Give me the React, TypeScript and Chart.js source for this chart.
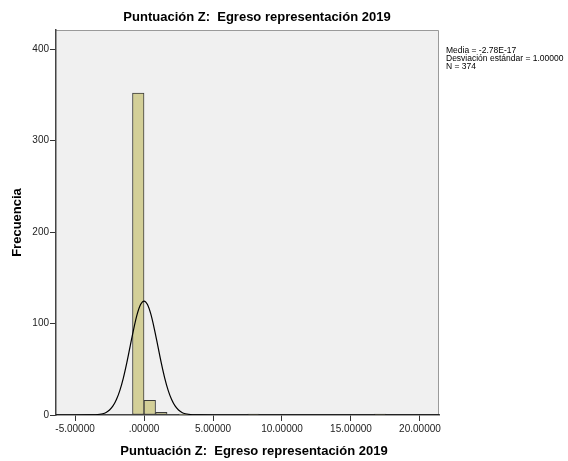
import React, { useEffect, useRef } from "react";
import { Chart, registerables } from "chart.js";

Chart.register(...registerables);

const titleText = "Puntuación Z:  Egreso representación 2019";
const xAxisTitle = "Puntuación Z:  Egreso representación 2019";
const yAxisTitle = "Frecuencia";
const statsLines = ["Media = -2.78E-17", "Desviación estándar = 1.00000", "N = 374"];

const binWidth = 0.835;
const binLowerEdges = [-0.835, 0, 0.835, 2.505, 7.515, 16.7];
const binCounts = [352, 16, 3, 1, 1, 1];

const curveX = [-6.38, -5, -4, -3.5, -3, -2.75, -2.5, -2.25, -2, -1.75, -1.5, -1.25, -1, -0.75, -0.5, -0.25, 0, 0.25, 0.5, 0.75, 1, 1.25, 1.5, 1.75, 2, 2.25, 2.5, 2.75, 3, 3.5, 4, 5, 10, 15, 21.38];
const curveY = [0, 0, 0.04, 0.27, 1.4, 2.8, 5.5, 9.9, 16.9, 27.0, 40.4, 57.0, 75.6, 94.0, 110.0, 120.8, 124.6, 120.8, 110.0, 94.0, 75.6, 57.0, 40.4, 27.0, 16.9, 9.9, 5.5, 2.8, 1.4, 0.27, 0.04, 0, 0, 0, 0];

const xTickValues = [-5, 0, 5, 10, 15, 20];
const xTickLabels = ["-5.00000", ".00000", "5.00000", "10.00000", "15.00000", "20.00000"];
const yTickValues = [0, 100, 200, 300, 400];
const yTickLabels = ["0", "100", "200", "300", "400"];

const FONT = "'Liberation Sans', Arial, sans-serif";

export default function App() {
  const ref = useRef<HTMLCanvasElement | null>(null);

  useEffect(() => {
    const canvas = ref.current;
    if (!canvas) return;

    const decor = {
      id: "decor",
      beforeDraw(chart: any) {
        const { ctx, chartArea } = chart;
        ctx.save();
        ctx.fillStyle = "#ffffff";
        ctx.fillRect(0, 0, chart.width, chart.height);
        ctx.fillStyle = "#f0f0f0";
        ctx.fillRect(chartArea.left, chartArea.top, chartArea.right - chartArea.left, chartArea.bottom - chartArea.top);
        ctx.strokeStyle = "#9a9a9a";
        ctx.lineWidth = 1;
        ctx.beginPath();
        ctx.moveTo(chartArea.left, chartArea.top + 0.5);
        ctx.lineTo(chartArea.right - 0.5, chartArea.top + 0.5);
        ctx.lineTo(chartArea.right - 0.5, chartArea.bottom);
        ctx.stroke();
        ctx.restore();
      },
      afterDraw(chart: any) {
        const { ctx, chartArea } = chart;
        ctx.save();
        ctx.fillStyle = "#000";
        ctx.textAlign = "center";
        ctx.textBaseline = "middle";
        ctx.font = `bold 13px ${FONT}`;
        ctx.fillText(titleText, 257, 17);
        ctx.fillText(xAxisTitle, 254, 451);
        ctx.save();
        ctx.translate(17, (chartArea.top + chartArea.bottom) / 2);
        ctx.rotate(-Math.PI / 2);
        ctx.fillText(yAxisTitle, 0, 0);
        ctx.restore();
        ctx.textAlign = "left";
        ctx.font = `8.5px ${FONT}`;
        statsLines.forEach((s, i) => {
          ctx.fillText(s, chartArea.right + 7, 51 + i * 8, 120);
        });
        ctx.restore();
      },
    };

    const chart = new Chart(canvas, {
      type: "bar",
      data: {
        datasets: [
          {
            type: "line",
            data: curveX.map((x, i) => ({ x, y: curveY[i] })),
            borderColor: "#000",
            borderWidth: 1.2,
            pointRadius: 0,
            fill: false,
            cubicInterpolationMode: "monotone",
            order: 0,
          } as any,
          {
            type: "bar",
            data: binLowerEdges.map((lo, i) => ({ x: lo + binWidth / 2, y: binCounts[i] })),
            backgroundColor: "#d3cf98",
            borderColor: "#3a3a3a",
            borderWidth: 1,
            borderSkipped: false,
            barPercentage: 1,
            categoryPercentage: 1,
            order: 1,
          } as any,
        ],
      },
      options: {
        animation: false,
        responsive: false,
        maintainAspectRatio: false,
        events: [],
        layout: { padding: { left: 16, right: 129, top: 30, bottom: 0 } },
        plugins: { legend: { display: false }, tooltip: { enabled: false }, title: { display: false } },
        scales: {
          x: {
            type: "linear",
            min: -6.38,
            max: 21.38,
            offset: false,
            afterFit: (s: any) => { s.height = 46; },
            afterBuildTicks: (s: any) => { s.ticks = xTickValues.map((v) => ({ value: v })); },
            ticks: {
              autoSkip: false,
              maxRotation: 0,
              padding: 2,
              color: "#222",
              font: { family: FONT, size: 10 },
              callback: (v: any) => xTickLabels[xTickValues.indexOf(Number(v))] ?? "",
            },
            grid: { display: true, drawOnChartArea: false, drawTicks: true, tickLength: 6, color: "#333", offset: false },
            border: { display: true, color: "#444", width: 1.5 },
          },
          y: {
            type: "linear",
            min: 0,
            max: 421,
            afterFit: (s: any) => { s.width = 40; },
            afterBuildTicks: (s: any) => { s.ticks = yTickValues.map((v) => ({ value: v })); },
            ticks: {
              autoSkip: false,
              padding: 1,
              color: "#222",
              font: { family: FONT, size: 10 },
              callback: (v: any) => yTickLabels[yTickValues.indexOf(Number(v))] ?? "",
            },
            grid: { display: true, drawOnChartArea: false, drawTicks: true, tickLength: 6, color: "#333" },
            border: { display: true, color: "#444", width: 1.5 },
          },
        },
      } as any,
      plugins: [decor],
    });

    return () => chart.destroy();
  }, []);

  return (
    <canvas
      ref={ref}
      width={568}
      height={461}
      style={{ position: "absolute", left: 0, top: 0, width: 568, height: 461 }}
    />
  );
}
